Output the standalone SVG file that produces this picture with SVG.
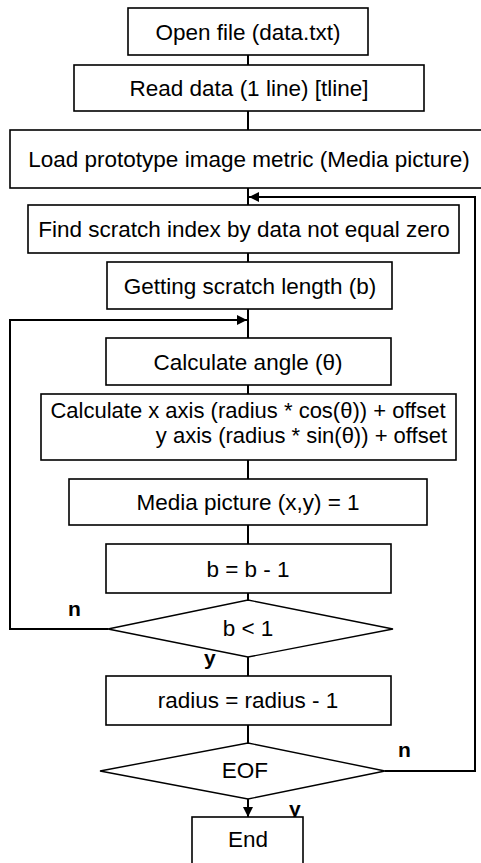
<svg xmlns="http://www.w3.org/2000/svg" width="481" height="863" viewBox="0 0 481 863">
<style>
.box{fill:#fff;stroke:#000;stroke-width:1.6}
.dia{fill:#fff;stroke:#000;stroke-width:1.4}
.t{font-family:"Liberation Sans",Arial,sans-serif;font-size:22.5px;fill:#000;text-anchor:middle}
.lbl{font-family:"Liberation Sans",Arial,sans-serif;font-size:21px;font-weight:bold;fill:#000}
.c{fill:none;stroke:#000;stroke-width:2}
</style>
<defs>
<marker id="ah" markerUnits="userSpaceOnUse" markerWidth="10" markerHeight="10" refX="10" refY="5" orient="auto">
<path d="M0,0 L10,5 L0,10 Z" fill="#000"/>
</marker>
</defs>
<rect width="481" height="863" fill="#fff"/>
<g id="connectors">
<line class="c" x1="248" y1="55" x2="248" y2="65"/>
<line class="c" x1="248" y1="111" x2="248" y2="130"/>
<line class="c" x1="248" y1="188" x2="248" y2="205"/>
<line class="c" x1="248" y1="253" x2="248" y2="262"/>
<line class="c" x1="248" y1="309" x2="248" y2="338"/>
<line class="c" x1="248" y1="385" x2="248" y2="394"/>
<line class="c" x1="248" y1="460" x2="248" y2="479"/>
<line class="c" x1="248" y1="525" x2="248" y2="544"/>
<line class="c" x1="248" y1="593" x2="248" y2="600"/>
<line class="c" x1="248" y1="657" x2="248" y2="676"/>
<line class="c" x1="248" y1="725" x2="248" y2="743"/>
<line class="c" x1="248" y1="799" x2="248" y2="817" marker-end="url(#ah)"/>
<polyline class="c" points="108,629 10,629 10,320 247,320" marker-end="url(#ah)"/>
<polyline class="c" points="385,771 475,771 475,197 249,197" marker-end="url(#ah)"/>
</g>
<g id="label-n1"><text class="lbl" x="68" y="616">n</text></g>
<g id="label-y1"><text class="lbl" x="204" y="665">y</text></g>
<g id="label-n2"><text class="lbl" x="398" y="757">n</text></g>
<g id="label-y2"><text class="lbl" x="289" y="816">y</text></g>
<g id="n1"><rect class="box" x="128" y="8" width="240" height="47"/><text class="t" x="248" y="39.5">Open file (data.txt)</text></g>
<g id="n2"><rect class="box" x="74" y="65" width="350" height="46"/><text class="t" x="249" y="96">Read data (1 line) [tline]</text></g>
<g id="n3"><rect class="box" x="10" y="130" width="480" height="58"/><text class="t" x="249" y="167">Load prototype image metric (Media picture)</text></g>
<g id="n4"><rect class="box" x="28" y="205" width="431" height="48"/><text class="t" x="244" y="237">Find scratch index by data not equal zero</text></g>
<g id="n5"><rect class="box" x="107" y="262" width="285" height="47"/><text class="t" x="250" y="293.5">Getting scratch length (b)</text></g>
<g id="n6"><rect class="box" x="106" y="338" width="285" height="47"/><text class="t" x="248" y="369.5">Calculate angle (θ)</text></g>
<g id="n7"><rect class="box" x="41" y="394" width="415" height="66"/><text class="t" x="248" y="418" style="font-size:22px">Calculate x axis (radius * cos(θ)) + offset</text><text class="t" x="447" y="443" style="text-anchor:end;font-size:22px">y axis (radius * sin(θ)) + offset</text></g>
<g id="n8"><rect class="box" x="69" y="479" width="358" height="46"/><text class="t" x="248" y="510">Media picture (x,y) = 1</text></g>
<g id="n9"><rect class="box" x="106" y="544" width="285" height="49"/><text class="t" x="248" y="576.5">b = b - 1</text></g>
<g id="d1"><polygon class="dia" points="248,600 393,629 248,657 108,629"/><text class="t" x="248" y="636">b &lt; 1</text></g>
<g id="n10"><rect class="box" x="106" y="676" width="285" height="49"/><text class="t" x="248" y="708">radius = radius - 1</text></g>
<g id="d2"><polygon class="dia" points="248,743 385,771 248,799 100,771"/><text class="t" x="245" y="778">EOF</text></g>
<g id="n11"><rect class="box" x="192" y="817" width="111" height="60"/><text class="t" x="248" y="847">End</text></g>
</svg>
